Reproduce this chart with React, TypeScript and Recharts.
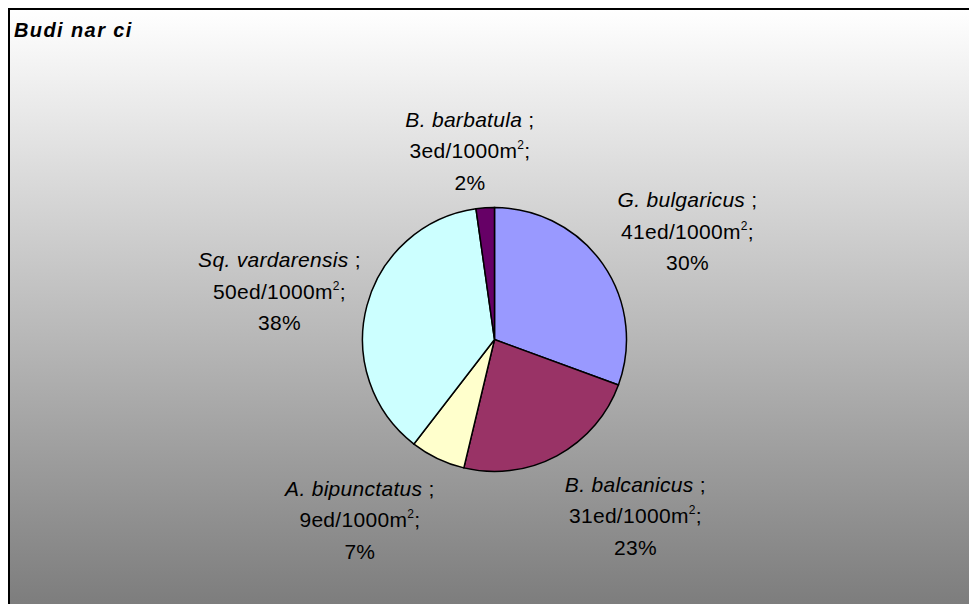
import { PieChart, Pie, Cell } from "recharts"

const speciesNames = ["G. bulgaricus", "B. balcanicus", "A. bipunctatus", "Sq. vardarensis", "B. barbatula"]
const densities = [41, 31, 9, 50, 3] // ed/1000m2
const percentLabels = ["30%", "23%", "7%", "38%", "2%"]
const sliceColors = ["#9999FF", "#993366", "#FFFFCC", "#CCFFFF", "#660066"]

const data = speciesNames.map((name, i) => ({
  name,
  value: densities[i],
  pct: percentLabels[i],
}))

const FONT = "'Liberation Sans', Arial, sans-serif"

// Excel-ish outside label: pushed out along the slice mid angle,
// with the label box shifted sideways once it is off the vertical axis
// (labels below the pie sit a little further out)
const renderLabel = (props: any) => {
  const { cx, cy, midAngle, outerRadius, index } = props
  const rad = (-midAngle * Math.PI) / 180
  const dx = Math.cos(rad)
  const dy = Math.sin(rad)
  const x = cx + (outerRadius + 18) * dx + Math.sign(dx) * 70 * Math.min(1, Math.abs(dx) / 0.35)
  const y = cy + (outerRadius + 57 + (dy > 0 ? 11 : 0)) * dy + 7.5
  const d = data[index]
  return (
    <g fontFamily={FONT} fontSize={21} fill="#000" letterSpacing={0.3}>
      <text x={x} y={y - 31.5} textAnchor="middle">
        <tspan fontStyle="italic">{d.name}</tspan>
        <tspan> ;</tspan>
      </text>
      <text x={x} y={y} textAnchor="middle">
        {d.value}ed/1000m
        <tspan dy={-9} fontSize={12}>2</tspan>
        <tspan dy={9}>;</tspan>
      </text>
      <text x={x} y={y + 31.5} textAnchor="middle">
        {d.pct}
      </text>
    </g>
  )
}

export default function App() {
  return (
    <div
      style={{
        position: "absolute",
        left: 8,
        top: 8,
        width: 961,
        height: 596,
        boxSizing: "border-box",
        borderTop: "2px solid #000",
        borderLeft: "2px solid #000",
        background: "linear-gradient(to bottom, #FFFFFF 0%, #7D7D7D 100%)",
        overflow: "hidden",
      }}
    >
      <div
        style={{
          position: "absolute",
          left: 4,
          top: 10,
          fontFamily: FONT,
          fontSize: 20,
          lineHeight: "20px",
          fontWeight: "bold",
          fontStyle: "italic",
          letterSpacing: 1.4,
          color: "#000",
        }}
      >
        Budi nar ci
      </div>
      <PieChart
        width={959}
        height={594}
        margin={{ top: 0, right: 0, bottom: 0, left: 0 }}
        style={{ position: "absolute", left: 0, top: 0 }}
      >
        <Pie
          data={data}
          dataKey="value"
          nameKey="name"
          cx={484.5}
          cy={329.5}
          outerRadius={132}
          startAngle={90}
          endAngle={-270}
          stroke="#000"
          strokeWidth={1.5}
          label={renderLabel}
          labelLine={false}
          isAnimationActive={false}
        >
          {data.map((d, i) => (
            <Cell key={d.name} fill={sliceColors[i]} />
          ))}
        </Pie>
      </PieChart>
    </div>
  )
}
